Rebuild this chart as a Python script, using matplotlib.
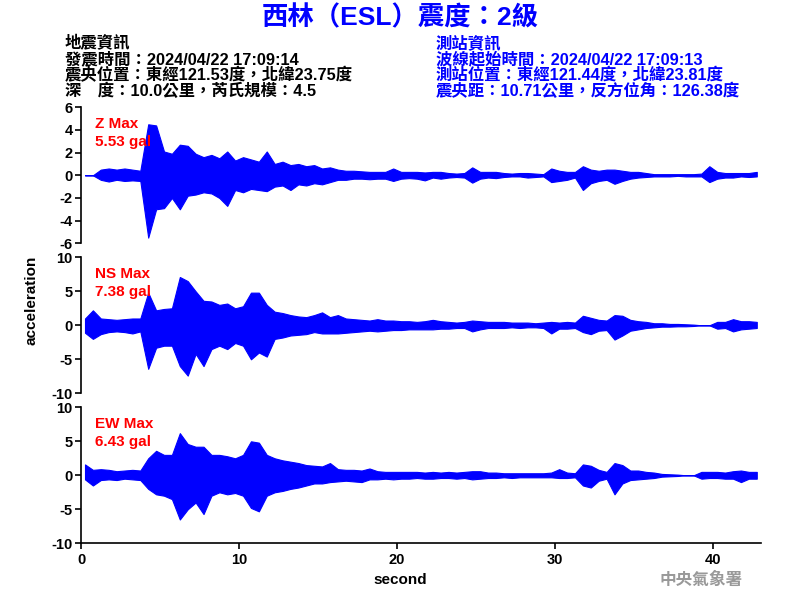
import matplotlib
matplotlib.use("Agg")
import matplotlib.pyplot as plt
import numpy as np

# peak values (gal) read per 0.5 s window, from t = 0 to 43 s
bin_width = 0.5

z_hi = [0, 0, 0.5, 0.6, 0.5, 0.6, 0.5, 0.4, 4.5, 4.4, 2.1, 1.9, 2.7, 2.6, 1.9, 1.6,
        1.8, 1.5, 2.1, 1.3, 1.6, 1.4, 1.2, 2.1, 1.0, 1.2, 0.9, 1.0, 0.8, 0.9, 0.6, 0.7,
        0.5, 0.4, 0.4, 0.35, 0.3, 0.3, 0.3, 0.6, 0.3, 0.3, 0.3, 0.25, 0.3, 0.3, 0.2, 0.15,
        0.2, 0.7, 0.3, 0.3, 0.3, 0.2, 0.15, 0.2, 0.2, 0.15, 0.1, 0.6, 0.4, 0.3, 0.3, 0.8,
        0.5, 0.4, 0.5, 0.5, 0.4, 0.3, 0.3, 0.2, 0.1, 0.1, 0.1, 0.1, 0.1, 0.1, 0.15, 0.8,
        0.3, 0.2, 0.2, 0.2, 0.2, 0.3]
z_lo = [0, 0, -0.4, -0.55, -0.4, -0.5, -0.45, -0.5, -5.5, -3.0, -2.9, -2.0, -3.0, -1.8, -1.7, -1.5,
        -1.6, -2.0, -2.7, -1.3, -1.5, -1.2, -1.3, -1.4, -1.0, -0.9, -1.3, -0.8, -0.9, -0.7, -0.8, -0.6,
        -0.4, -0.4, -0.3, -0.3, -0.35, -0.3, -0.3, -0.5, -0.3, -0.25, -0.3, -0.45, -0.2, -0.3, -0.2, -0.15,
        -0.2, -0.65, -0.3, -0.2, -0.25, -0.15, -0.1, -0.1, -0.2, -0.15, -0.1, -0.6, -0.5, -0.4, -0.2, -1.3,
        -0.7, -0.5, -0.4, -0.75, -0.5, -0.3, -0.2, -0.15, -0.1, -0.1, -0.1, -0.05, -0.1, -0.1, -0.1, -0.6,
        -0.3, -0.2, -0.2, -0.1, -0.15, -0.1]

ns_hi = [1.0, 2.2, 1.0, 0.9, 0.8, 0.9, 1.0, 1.0, 4.8, 2.2, 2.4, 2.5, 7.1, 6.5, 5.0, 3.6,
         3.5, 3.0, 3.2, 2.5, 2.8, 4.8, 4.8, 3.0, 2.0, 1.8, 1.5, 1.3, 1.2, 1.5, 1.9, 1.2,
         1.5, 1.0, 0.9, 0.8, 0.7, 0.9, 0.7, 0.7, 0.6, 0.6, 0.5, 0.6, 0.8, 0.6, 0.5, 0.4,
         0.5, 0.7, 0.6, 0.5, 0.5, 0.5, 0.4, 0.4, 0.4, 0.3, 0.4, 0.5, 0.4, 0.5, 0.4, 1.4,
         1.1, 0.8, 0.7, 1.5, 1.4, 0.8, 0.6, 0.5, 0.3, 0.3, 0.2, 0.2, 0.15, 0.1, 0.0, 0.0,
         0.5, 0.5, 0.9, 0.6, 0.6, 0.5]
ns_lo = [-1.1, -2.0, -1.3, -1.0, -0.9, -1.0, -1.2, -0.9, -6.4, -3.3, -3.0, -3.0, -6.0, -7.4, -4.2, -6.0,
         -3.5, -3.0, -3.5, -2.6, -3.0, -5.0, -4.0, -4.6, -2.0, -1.8, -1.5, -1.4, -1.3, -1.0, -1.2, -1.2,
         -1.2, -1.1, -1.0, -0.9, -0.8, -0.9, -0.8, -0.7, -0.7, -0.6, -0.6, -0.6, -0.6, -0.5, -0.5, -0.4,
         -0.4, -0.9, -0.6, -0.4, -0.4, -0.4, -0.3, -0.4, -0.3, -0.3, -0.4, -1.2, -0.5, -0.5, -0.4, -1.0,
         -1.3, -0.8, -0.7, -2.1, -1.5, -0.8, -0.6, -0.4, -0.3, -0.2, -0.2, -0.15, -0.15, -0.1, 0.0, 0.0,
         -0.5, -0.4, -0.9, -0.6, -0.5, -0.4]

ew_hi = [1.6, 0.8, 0.9, 0.8, 0.6, 0.7, 0.8, 0.7, 2.5, 3.6, 3.0, 3.0, 6.2, 4.6, 4.2, 4.2,
         3.0, 3.0, 2.8, 2.5, 3.0, 5.0, 4.8, 3.0, 2.5, 2.2, 2.0, 1.8, 1.5, 1.4, 1.3, 1.8,
         0.9, 0.8, 0.8, 0.7, 1.0, 0.6, 0.5, 0.5, 0.5, 0.5, 0.5, 0.4, 0.5, 0.4, 0.5, 0.4,
         0.5, 0.6, 0.6, 0.4, 0.4, 0.3, 0.3, 0.3, 0.3, 0.3, 0.3, 0.4, 0.9, 0.4, 0.3, 1.6,
         1.4, 0.8, 0.5, 1.8, 1.5, 0.7, 0.7, 0.5, 0.4, 0.2, 0.15, 0.1, 0.0, 0.0, 0.5, 0.5,
         0.5, 0.4, 0.6, 0.7, 0.5, 0.5]
ew_lo = [-0.6, -1.5, -0.7, -0.6, -0.7, -0.5, -0.6, -0.7, -2.0, -2.8, -3.0, -3.5, -6.5, -5.0, -4.0, -5.7,
         -3.0, -2.5, -2.8, -2.6, -3.0, -4.8, -5.3, -3.0, -2.5, -2.3, -2.0, -1.8, -1.5, -1.2, -1.2, -1.0,
         -0.9, -0.8, -0.9, -1.0, -0.6, -0.6, -0.5, -0.6, -0.5, -0.5, -0.4, -0.5, -0.5, -0.4, -0.4, -0.5,
         -0.4, -0.6, -0.5, -0.4, -0.4, -0.3, -0.4, -0.3, -0.3, -0.3, -0.3, -0.3, -0.4, -0.4, -0.3, -1.5,
         -1.8, -0.8, -0.5, -2.8, -1.2, -0.7, -0.6, -0.5, -0.4, -0.2, -0.15, -0.1, 0.0, 0.0, -0.5, -0.4,
         -0.4, -0.5, -0.5, -1.0, -0.5, -0.5]

panels = ["Z", "NS", "EW"]
max_gal = ["5.53", "7.38", "6.43"]
y_limits = [6, 10, 10]
y_ticks = [[-6, -4, -2, 0, 2, 4, 6], [-10, -5, 0, 5, 10], [-10, -5, 0, 5, 10]]
x_ticks = [0, 10, 20, 30, 40]

title = "西林（ESL）震度：2級"
quake_info = ["地震資訊", "發震時間：2024/04/22 17:09:14",
              "震央位置：東經121.53度，北緯23.75度", "深　度：10.0公里，芮氏規模：4.5"]
station_info = ["測站資訊", "波線起始時間：2024/04/22 17:09:13",
                "測站位置：東經121.44度，北緯23.81度", "震央距：10.71公里，反方位角：126.38度"]

fam = ["Liberation Sans", "Noto Sans CJK TC", "DejaVu Sans"]
plt.rcParams["font.family"] = fam
plt.rcParams["font.weight"] = "bold"

fig = plt.figure(figsize=(8, 6), dpi=100)

traces = [(z_hi, z_lo), (ns_hi, ns_lo), (ew_hi, ew_lo)]
bottoms = [0.5945, 0.3445, 0.0945]
for k, (hi, lo) in enumerate(traces):
    ax = fig.add_axes([0.1013, bottoms[k], 0.8496, 0.2267])
    t = np.arange(len(hi)) * bin_width + bin_width / 2
    # trace envelope (peak values per window)
    ax.fill_between(t, lo, hi, color="#0000ff", lw=0.8, edgecolor="#0000ff")
    ax.set_xlim(0, 43)
    ax.set_ylim(-y_limits[k], y_limits[k])
    ax.set_yticks(y_ticks[k])
    ax.set_yticklabels([str(v) for v in y_ticks[k]], fontsize=10.5, fontweight="bold")
    ax.spines["top"].set_visible(False)
    ax.spines["right"].set_visible(False)
    ax.spines["left"].set_linewidth(1.2)
    ax.tick_params(axis="y", direction="out", length=4, width=1.2, pad=2)
    if k < 2:
        ax.spines["bottom"].set_visible(False)
        ax.set_xticks([])
    else:
        ax.spines["bottom"].set_linewidth(1.2)
        ax.set_xticks(x_ticks)
        ax.set_xticklabels([str(v) for v in x_ticks], fontsize=10.5, fontweight="bold")
        ax.tick_params(axis="x", direction="out", length=4, width=1.2, pad=3)
    ax.text(0.02, 0.93, f"{panels[k]} Max\n{max_gal[k]} gal", transform=ax.transAxes,
            color="red", fontsize=11, fontweight="bold", va="top", ha="left",
            linespacing=1.4)

fig.text(0.5, 1 - 18 / 600, title, color="#0000ff", fontsize=19, fontweight="bold",
         ha="center", va="center")
for i, line in enumerate(quake_info):
    fig.text(65 / 800, 1 - (43 + 16 * i) / 600, line, fontsize=11.8, fontweight="bold",
             ha="left", va="center", color="black")
for i, line in enumerate(station_info):
    fig.text(436 / 800, 1 - (43 + 16 * i) / 600, line, fontsize=11.8, fontweight="bold",
             ha="left", va="center", color="#0000ff")

fig.text(32 / 800, 0.5, "acceleration", rotation=90, fontsize=11, fontweight="bold",
         ha="center", va="center")
fig.text(0.5, 1 - 580 / 600, "second", fontsize=11, fontweight="bold",
         ha="center", va="center")
fig.text(701 / 800, 1 - 580 / 600, "中央氣象署", fontsize=12, color="#999999",
         ha="center", va="center")

fig.savefig("out.png", dpi=100)
